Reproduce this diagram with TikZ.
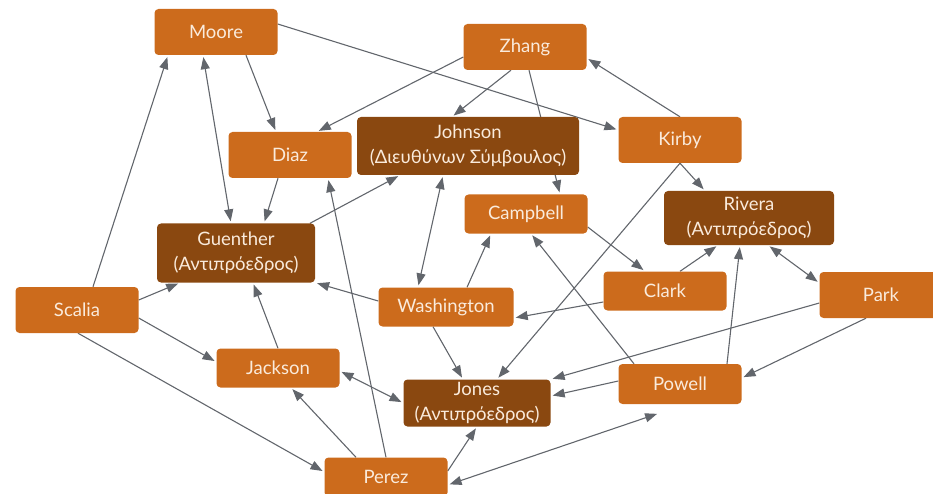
\documentclass[tikz,border=0pt]{standalone}
\usepackage{fontspec}
\setmainfont{Lato}
\usepackage{tikz}
\usetikzlibrary{arrows.meta,backgrounds}
\definecolor{boxorange}{HTML}{CC6B1C}
\definecolor{boxbrown}{HTML}{8A4810}
\definecolor{boxtext}{HTML}{FAEBDC}
\definecolor{linkgray}{HTML}{62666C}

\begin{document}
\begin{tikzpicture}[x=1pt,y=-1pt,
	box/.style={fill=boxorange,rounded corners=4pt,text=boxtext,align=center,inner sep=0pt,
		minimum width=123pt,minimum height=46pt,font=\fontsize{18.5}{25}\selectfont},
	low/.style={box,minimum height=39pt},
	boss/.style={box,fill=boxbrown},
	link/.style={draw=linkgray,line width=1.1pt,-{Triangle[length=12pt,width=9pt]},shorten >=2pt},
	both/.style={link,{Triangle[length=12pt,width=9pt]}-{Triangle[length=12pt,width=9pt]},shorten <=2pt}]
		\useasboundingbox (0,0) rectangle (933,494);
		\node[box] (moore) at (216,32) {Moore};
		\node[box] (zhang) at (525,47) {Zhang};
		\node[box] (diaz) at (290,155) {Diaz};
		\node[boss,minimum width=222pt,minimum height=58pt] (johnson) at (468,146) {Johnson\\(Διευθύνων Σύμβουλος)};
		\node[box] (kirby) at (680,140) {Kirby};
		\node[low] (campbell) at (526,214) {Campbell};
		\node[boss,minimum width=170pt,minimum height=54pt] (rivera) at (749,218) {Rivera\\(Αντιπρόεδρος)};
		\node[boss,minimum width=158pt,minimum height=59pt] (guenther) at (236,253) {Guenther\\(Αντιπρόεδρος)};
		\node[box] (scalia) at (77,310) {Scalia};
		\node[low,minimum width=135pt] (washington) at (446,307) {Washington};
		\node[low] (clark) at (665,291) {Clark};
		\node[box] (park) at (881,295) {Park};
		\node[low] (jackson) at (278,368) {Jackson};
		\node[boss,minimum width=147pt,minimum height=47pt] (jones) at (477,403) {Jones\\(Αντιπρόεδρος)};
		\node[low,minimum height=40pt] (powell) at (680,384) {Powell};
		\node[low] (perez) at (386,477) {Perez};
		\begin{scope}[on background layer]
		\draw[link] ([xshift=16]scalia.north) -- ([xshift=-48]moore.south);
		\draw[both] ([xshift=-13]moore.south) -- ([xshift=-5]guenther.north);
		\draw[link] ([xshift=30]moore.south) -- ([xshift=-14]diaz.north);
		\draw[link] ([yshift=8]moore.east) -- ([yshift=10]kirby.west);
		\draw[link] ([yshift=-10]zhang.west) -- ([xshift=27]diaz.north);
		\draw[link] ([xshift=-14]zhang.south) -- ([xshift=-16]johnson.north);
		\draw[link] ([xshift=4]zhang.south) -- ([xshift=34]campbell.north);
		\draw[link] (kirby.north) -- ([yshift=-11]zhang.east);
		\draw[link] (kirby.south) -- ([xshift=-44]rivera.north);
		\draw[link] (kirby.south) -- ([xshift=20]jones.north);
		\draw[link] ([xshift=74]guenther.north) -- ([xshift=-68]johnson.south);
		\draw[link] ([xshift=-12]diaz.south) -- ([xshift=28]guenther.north);
		\draw[link] (perez.north) -- ([xshift=38]diaz.south);
		\draw[both] ([xshift=-25]johnson.south) -- ([xshift=-28]washington.north);
		\draw[link] ([yshift=6]washington.west) -- (guenther.south east);
		\draw[link] ([xshift=21]washington.north) -- ([xshift=-35]campbell.south);
		\draw[link] ([xshift=-13]washington.south) -- ([xshift=-14]jones.north);
		\draw[link] ([yshift=-13]campbell.east) -- ([xshift=-20]clark.north);
		\draw[link] ([xshift=-46]powell.north) -- ([xshift=5]campbell.south);
		\draw[link] ([xshift=15]clark.north) -- ([xshift=-31]rivera.south);
		\draw[link] ([yshift=-11]clark.west) -- ([yshift=-11]washington.east);
		\draw[link] ([xshift=47]powell.north) -- ([xshift=-9]rivera.south);
		\draw[both] ([xshift=19]rivera.south) -- ([yshift=12]park.west);
		\draw[link] ([yshift=-8]park.west) -- (jones.north east);
		\draw[link] ([xshift=-15]park.south) -- ([yshift=6]powell.east);
		\draw[link] ([yshift=3]powell.west) -- ([yshift=7]jones.east);
		\draw[link] ([yshift=10]scalia.east) -- ([xshift=-56]guenther.south);
		\draw[link] ([yshift=-8]scalia.east) -- ([yshift=6]jackson.west);
		\draw[link] ([xshift=1]scalia.south) -- ([yshift=5]perez.west);
		\draw[link] (jackson.north) -- ([xshift=17]guenther.south);
		\draw[both] ([yshift=-3]jackson.east) -- (jones.west);
		\draw[link] ([xshift=-30]perez.north) -- ([xshift=13]jackson.south);
		\draw[link] ([yshift=6]perez.east) -- (jones.south);
		\draw[both] ([yshift=-8]perez.east) -- ([xshift=-21,yshift=-9]powell.south);
		\end{scope}
	\end{tikzpicture}
\end{document}
